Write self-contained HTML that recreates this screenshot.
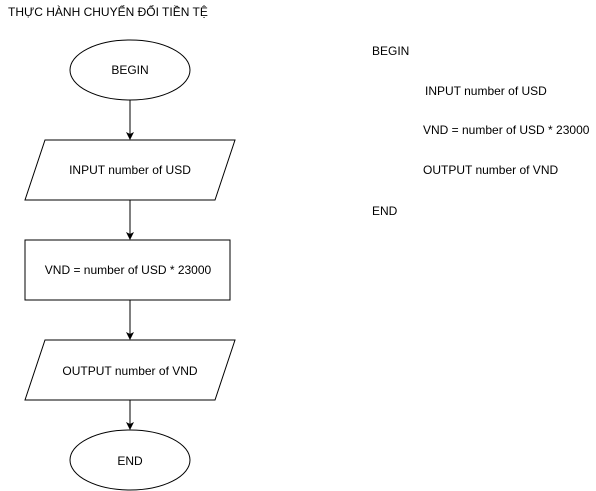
<!DOCTYPE html>
<html><head><meta charset="utf-8"><style>
html,body{margin:0;padding:0;background:#fff;width:596px;height:491px;overflow:hidden}
svg text{font-family:"Liberation Sans",sans-serif;font-size:12px;fill:#000}
</style></head><body>
<svg width="596" height="491" viewBox="0 0 596 491" xmlns="http://www.w3.org/2000/svg">
<defs><marker id="a" markerWidth="8" markerHeight="8" refX="7" refY="4" orient="auto" markerUnits="userSpaceOnUse"><path d="M0,0 L8,4 L0,8 L2,4 Z" fill="#000"/></marker></defs>
<g fill="none" stroke="#000" stroke-width="1">
<text x="8" y="16" stroke="none">THỰC HÀNH CHUYỂN ĐỔI TIỀN TỆ</text>
<ellipse cx="130" cy="70" rx="60" ry="30" fill="#fff"/>
<line x1="130" y1="100" x2="130" y2="139" marker-end="url(#a)"/>
<polygon points="45,140 235,140 215,200 25,200" fill="#fff"/>
<line x1="130" y1="200" x2="130" y2="239" marker-end="url(#a)"/>
<rect x="25" y="240" width="205" height="60" fill="#fff"/>
<line x1="130" y1="300" x2="130" y2="339" marker-end="url(#a)"/>
<polygon points="45,340 235,340 215,400 25,400" fill="#fff"/>
<line x1="130" y1="400" x2="130" y2="429" marker-end="url(#a)"/>
<ellipse cx="130" cy="460" rx="60" ry="30" fill="#fff"/>
</g>
<g text-anchor="middle">
<text x="130" y="74">BEGIN</text>
<text x="130" y="174">INPUT number of USD</text>
<text x="128" y="274">VND = number of USD * 23000</text>
<text x="130" y="375">OUTPUT number of VND</text>
<text x="130" y="465">END</text>
</g>
<text x="372" y="55">BEGIN</text>
<text x="425" y="95">INPUT number of USD</text>
<text x="423" y="134">VND = number of USD * 23000</text>
<text x="423" y="174">OUTPUT number of VND</text>
<text x="372" y="215">END</text>
</svg>
</body></html>
